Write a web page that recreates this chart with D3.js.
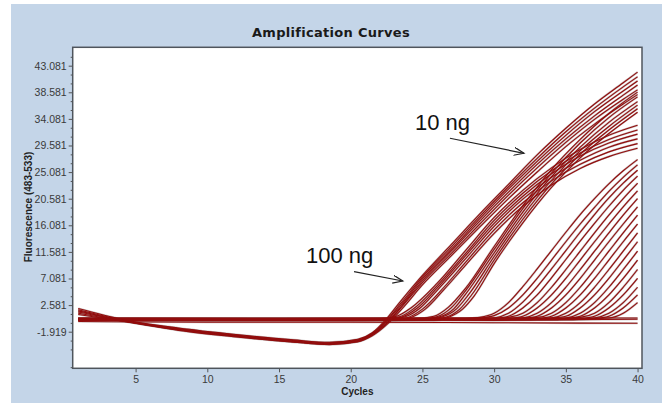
<!DOCTYPE html>
<html>
<head>
<meta charset="utf-8">
<script src="https://d3js.org/d3.v7.min.js"></script>
<style>
  html, body { margin: 0; padding: 0; background: #ffffff; }
  #chart { width: 667px; height: 405px; }
  svg { display: block; }
  .tickText text { font-family: "Liberation Sans", Arial, sans-serif; font-size: 10.5px; fill: #3a3a3a; }
  .chartTitle { font-family: "DejaVu Sans", sans-serif; font-weight: bold; font-size: 13px; letter-spacing: 0.3px; fill: #1a1a1a; }
  .axisTitle { font-family: "Liberation Sans", Arial, sans-serif; font-weight: bold; font-size: 10px; fill: #222; }
  .note { font-family: "Liberation Sans", Arial, sans-serif; font-size: 22px; fill: #111; }
</style>
</head>
<body>
<div id="chart"><svg width="667" height="405"></svg></div>
<script>
// tick labels
const xTicks = [5, 10, 15, 20, 25, 30, 35, 40];
const yTicks = [-1.919, 2.581, 7.081, 11.581, 16.081, 20.581, 25.081, 29.581, 34.081, 38.581, 43.081];

// curves as [cycle, fluorescence]
// early wells, baseline sags before take-off
const dipCurves = [
  [[1,2.0],[4,0.2],[8,-1.3],[12,-2.4],[16,-3.3],[18.5,-3.7],[20.5,-3.2],[21.5,-2.1],[22.4,0],[23.4,3],[25,7.6],[27,12.8],[29,18],[31,23],[33,28],[35,32.5],[37,36.6],[39,40.2],[40,42]],
  [[1,1.8],[4,0.1],[8,-1.4],[12,-2.5],[16,-3.4],[18.5,-3.8],[20.5,-3.3],[21.5,-2.2],[22.5,0],[23.5,2.9],[25,7.3],[27,12.4],[29,17.6],[31,22.6],[33,27.4],[35,31.9],[37,35.9],[39,39.5],[40,41.2]],
  [[1,1.6],[4,0],[8,-1.5],[12,-2.6],[16,-3.5],[18.5,-3.9],[20.5,-3.4],[21.5,-2.3],[22.5,-0.2],[23.5,2.6],[25,7],[27,12],[29,17.2],[31,22.2],[33,26.9],[35,31.3],[37,35.3],[39,38.8],[40,40.5]],
  [[1,1.4],[4,0],[8,-1.6],[12,-2.7],[16,-3.6],[18.5,-4.0],[20.5,-3.5],[21.5,-2.4],[22.6,-0.2],[23.6,2.6],[25,6.7],[27,11.7],[29,16.8],[31,21.7],[33,26.4],[35,30.7],[37,34.6],[39,38.1],[40,39.8]],
  [[1,1.2],[4,-0.1],[8,-1.7],[12,-2.8],[16,-3.7],[18.5,-4.1],[20.5,-3.6],[21.5,-2.5],[22.6,-0.3],[23.6,2.4],[25,6.4],[27,11.3],[29,16.3],[31,21.2],[33,25.8],[35,30.1],[37,34],[39,37.4],[40,39]],
  [[1,1.0],[4,-0.1],[8,-1.6],[12,-2.7],[16,-3.6],[18.5,-4.0],[20.5,-3.6],[21.5,-2.6],[22.7,-0.3],[23.7,2.3],[25,6],[27,10.9],[29,15.8],[31,20.6],[33,25.1],[35,29.4],[37,33.2],[39,36.6],[40,38.2]]
];

// wells that level off around 30
const plateauCurves = [
  [[1,0.3],[22,0.3],[23.2,0.7],[24.2,2.1],[26,6.2],[28,11.8],[30,17.4],[32,22],[34,25.8],[36,28.9],[38,31.3],[40,33]],
  [[1,0.2],[22,0.2],[23.4,0.6],[24.4,2],[26,5.8],[28,11.3],[30,16.9],[32,21.5],[34,25.3],[36,28.3],[38,30.6],[40,32.2]],
  [[1,0.2],[22.5,0.2],[23.6,0.6],[24.6,2],[26,5.4],[28,10.9],[30,16.4],[32,21],[34,24.8],[36,27.8],[38,30],[40,31.5]],
  [[1,0.1],[22.5,0.1],[23.8,0.6],[24.8,2],[26,5],[28,10.4],[30,15.9],[32,20.5],[34,24.2],[36,27.1],[38,29.3],[40,30.7]],
  [[1,0.1],[23,0.1],[24,0.5],[25,1.9],[26.5,5.6],[28,9.8],[30,15.3],[32,19.9],[34,23.6],[36,26.4],[38,28.5],[40,29.9]],
  [[1,0],[23,0],[24.2,0.5],[25.2,1.9],[26.5,5.2],[28,9.3],[30,14.7],[32,19.3],[34,22.9],[36,25.7],[38,27.7],[40,29.1]]
];

// steeper wells crossing the plateau group
const midCurves = [
  [[1,0.3],[24.5,0.3],[25.8,0.7],[26.8,2.2],[28,5.4],[30,12.5],[32,19.4],[34,25.5],[36,30.6],[38,35],[40,38.6]],
  [[1,0.2],[24.8,0.2],[26,0.6],[27,2.1],[28,5],[30,12],[32,18.9],[34,24.9],[36,30],[38,34.3],[40,37.8]],
  [[1,0.2],[25,0.2],[26.2,0.6],[27.2,2],[28,4.4],[30,11.4],[32,18.3],[34,24.3],[36,29.3],[38,33.5],[40,37]],
  [[1,0.1],[25.2,0.1],[26.4,0.6],[27.4,2],[28.2,4.3],[30,10.8],[32,17.7],[34,23.7],[36,28.7],[38,32.8],[40,36.4]],
  [[1,0.1],[25.5,0.1],[26.6,0.5],[27.6,1.9],[28.4,4.2],[30,10.2],[32,17.1],[34,23.1],[36,28.1],[38,32.2],[40,35.8]],
  [[1,0],[25.8,0],[26.8,0.5],[27.8,1.9],[28.6,4.1],[30,9.6],[32,16.5],[34,22.5],[36,27.5],[38,31.6],[40,35.2]]
];

// late fan
const lateCurves = [
  [[1,0.2],[27,0.2],[28,0.3],[29,0.5],[30,1.2],[31,3.0],[32,5.7],[33,8.7],[34,11.8],[35,14.9],[36,17.9],[37,20.6],[38,23.1],[39,25.3],[40,27.2]],
  [[1,0.3],[28,0.3],[29,0.4],[30,0.8],[31,2.1],[32,4.3],[33,7.1],[34,10.2],[35,13.3],[36,16.3],[37,19.1],[38,21.8],[39,24.2],[40,26.3]],
  [[1,0.1],[28.5,0.1],[30,0.4],[31,1.2],[32,3.1],[33,5.7],[34,8.7],[35,11.8],[36,14.9],[37,17.9],[38,20.7],[39,23.2],[40,25.4]],
  [[1,0.2],[29,0.2],[30,0.3],[31,0.7],[32,2.1],[33,4.3],[34,7.2],[35,10.3],[36,13.4],[37,16.4],[38,19.3],[39,22],[40,24.4]],
  [[1,0.3],[29.5,0.3],[31,0.5],[32,1.2],[33,3.0],[34,5.6],[35,8.6],[36,11.7],[37,14.8],[38,17.8],[39,20.6],[40,23.2]],
  [[1,0.2],[30,0.2],[31,0.3],[32,0.7],[33,2.1],[34,4.3],[35,7.1],[36,10.2],[37,13.3],[38,16.3],[39,19.2],[40,21.9]],
  [[1,0.1],[30.5,0.1],[32,0.4],[33,1.2],[34,3.0],[35,5.6],[36,8.6],[37,11.7],[38,14.8],[39,17.8],[40,20.6]],
  [[1,0.2],[31,0.2],[32,0.3],[33,0.7],[34,2.1],[35,4.3],[36,7.1],[37,10.2],[38,13.3],[39,16.3],[40,19.2]],
  [[1,0.4],[31.5,0.4],[33,0.5],[34,1.2],[35,3.0],[36,5.6],[37,8.6],[38,11.7],[39,14.8],[40,17.8]],
  [[1,0.2],[32,0.2],[33,0.3],[34,0.7],[35,2.1],[36,4.3],[37,7.1],[38,10.2],[39,13.3],[40,16.3]],
  [[1,0.1],[32.5,0.1],[34,0.4],[35,1.2],[36,3.0],[37,5.6],[38,8.6],[39,11.7],[40,14.8]],
  [[1,0.3],[33,0.3],[34,0.4],[35,0.7],[36,2.1],[37,4.3],[38,7.1],[39,10.2],[40,13.3]],
  [[1,0.2],[33.5,0.2],[35,0.4],[36,1.2],[37,3.0],[38,5.6],[39,8.6],[40,11.7]],
  [[1,0.1],[34,0.1],[35,0.3],[36,0.7],[37,2.1],[38,4.3],[39,7.1],[40,10.2]],
  [[1,0.3],[34.5,0.3],[36,0.5],[37,1.2],[38,3.0],[39,5.6],[40,8.6]],
  [[1,0.2],[35,0.2],[36,0.3],[37,0.7],[38,2.1],[39,4.3],[40,7.1]],
  [[1,0.1],[35.5,0.1],[37,0.4],[38,1.2],[39,3.0],[40,5.6]],
  [[1,0.2],[36,0.2],[37,0.3],[38,0.7],[39,2.1],[40,4.3]],
  [[1,0.3],[36.5,0.3],[38,0.4],[39,1.2],[40,3.0]]
];

// wells that never come up
const flatCurves = [
  [[1,0.1],[10,0.0],[20,0.1],[30,0.0],[40,0.2]],
  [[1,-0.2],[10,-0.3],[20,-0.3],[30,-0.4],[40,-0.5]],
  [[1,0.4],[15,0.3],[25,0.4],[40,0.4]]
];

function makeChart() {

    /**********************
    ***** BASIC SETUP *****
    **********************/

    const svg = d3.select("#chart").select("svg");
    const plot = {left: 72.7, top: 47.3, right: 642, bottom: 368.3};

    // light blue panel behind everything
    svg.append("rect")
        .attr("x", 11).attr("y", 4)
        .attr("width", 651).attr("height", 399)
        .attr("fill", "#c4d5e8");

    svg.append("rect")
        .attr("x", plot.left).attr("y", plot.top)
        .attr("width", plot.right - plot.left)
        .attr("height", plot.bottom - plot.top)
        .attr("fill", "#ffffff");

    /***********************
    ***** X & Y SCALES *****
    ***********************/

    const xScale = d3.scaleLinear()
        .domain([0.614, 40.31])
        .range([plot.left, plot.right]);

    const yScale = d3.scaleLinear()
        .domain([-8.11, 46.19])
        .range([plot.bottom, plot.top]);

    /****************
    ***** LINES *****
    ****************/

    svg.append("clipPath").attr("id", "clip")
        .append("rect")
        .attr("x", plot.left).attr("y", plot.top)
        .attr("width", plot.right - plot.left)
        .attr("height", plot.bottom - plot.top);

    const line = d3.line()
        .x(d => xScale(d[0]))
        .y(d => yScale(d[1]))
        .curve(d3.curveMonotoneX);

    const allCurves = [].concat(flatCurves, lateCurves, plateauCurves, midCurves, dipCurves);

    const lines = svg.append("g").attr("clip-path", "url(#clip)");

    // grey halo first, red core on top (the export looks like this)
    lines.selectAll(".halo")
        .data(allCurves)
        .enter()
        .append("path")
        .attr("class", "halo")
        .attr("d", line)
        .attr("fill", "none")
        .attr("stroke", "#9c8c8c")
        .attr("stroke-width", 2.1)
        .attr("opacity", 0.55);

    lines.selectAll(".core")
        .data(allCurves)
        .enter()
        .append("path")
        .attr("class", "core")
        .attr("d", line)
        .attr("fill", "none")
        .attr("stroke", "#920c0c")
        .attr("stroke-width", 1.1);

    /*********************
    ***** X & Y AXES *****
    *********************/

    svg.append("g")
        .attr("class", "tickText")
        .attr("transform", `translate(0, ${plot.bottom})`)
        .call(d3.axisBottom(xScale)
            .tickValues(xTicks)
            .tickSize(4)
            .tickPadding(3)
            .tickFormat(d3.format("d")));

    svg.append("g")
        .attr("class", "tickText")
        .attr("transform", `translate(${plot.left}, 0)`)
        .call(d3.axisLeft(yScale)
            .tickValues(yTicks)
            .tickSize(4)
            .tickPadding(2)
            .tickFormat(d => d.toFixed(3)));

    // minor ticks, two between each labelled one
    const minor = d3.range(-7.919, 46, 1.5).filter(v => Math.abs(((v + 1.919) / 4.5) - Math.round((v + 1.919) / 4.5)) > 0.01);
    svg.append("g")
        .attr("transform", `translate(${plot.left}, 0)`)
        .call(d3.axisLeft(yScale).tickValues(minor).tickSize(2).tickFormat(""));

    svg.selectAll(".domain").remove();
    svg.selectAll(".tick line").attr("stroke", "#555");

    svg.append("rect")
        .attr("x", plot.left).attr("y", plot.top)
        .attr("width", plot.right - plot.left)
        .attr("height", plot.bottom - plot.top)
        .attr("fill", "none")
        .attr("stroke", "#4f555c")
        .attr("stroke-width", 1.5);

    /*************************
    ***** TITLES, LABELS *****
    *************************/

    svg.append("text")
        .attr("class", "chartTitle")
        .attr("x", 331).attr("y", 37)
        .attr("text-anchor", "middle")
        .text("Amplification Curves");

    svg.append("text")
        .attr("class", "axisTitle")
        .attr("x", (plot.left + plot.right) / 2).attr("y", 395)
        .attr("text-anchor", "middle")
        .text("Cycles");

    svg.append("text")
        .attr("class", "axisTitle")
        .attr("transform", "translate(32, 207) rotate(-90)")
        .attr("text-anchor", "middle")
        .text("Fluorescence (483-533)");

    /**********************
    ***** ANNOTATIONS *****
    **********************/

    svg.append("defs").append("marker")
        .attr("id", "arrow")
        .attr("markerUnits", "userSpaceOnUse")
        .attr("markerWidth", 12).attr("markerHeight", 10)
        .attr("refX", 10).attr("refY", 4)
        .attr("orient", "auto")
        .append("path")
        .attr("d", "M0,0 L10,4 L0,8")
        .attr("fill", "none")
        .attr("stroke", "#222")
        .attr("stroke-width", 1.2);

    const notes = [
        {label: "10 ng", tx: 24.48, ty: 32.2, from: [26.92, 30.8], to: [32.08, 28.26]},
        {label: "100 ng", tx: 16.88, ty: 9.7, from: [20.23, 8.23], to: [23.63, 6.66]}
    ];

    notes.forEach(n => {
        svg.append("text")
            .attr("class", "note")
            .attr("x", xScale(n.tx)).attr("y", yScale(n.ty))
            .text(n.label);
        svg.append("line")
            .attr("x1", xScale(n.from[0])).attr("y1", yScale(n.from[1]))
            .attr("x2", xScale(n.to[0])).attr("y2", yScale(n.to[1]))
            .attr("stroke", "#222")
            .attr("stroke-width", 1.2)
            .attr("marker-end", "url(#arrow)");
    });
}

makeChart();
</script>
</body>
</html>
